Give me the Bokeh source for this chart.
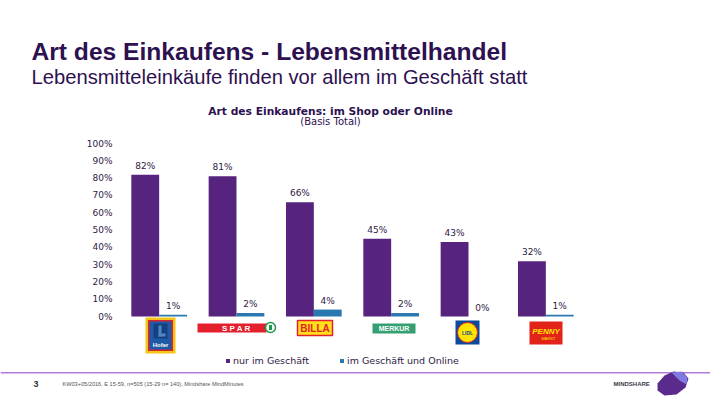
from bokeh.plotting import figure
from bokeh.layouts import column
from bokeh.models import (ColumnDataSource, FactorRange, Range1d, LabelSet, Label,
                          BoxAnnotation, PolyAnnotation, Legend, LegendItem,
                          FixedTicker, PrintfTickFormatter)
from bokeh.transform import dodge
from bokeh.core.properties import value
from bokeh.embed import file_html
from bokeh.resources import INLINE

# ---------------- data ----------------
retailers = ["Hofer", "SPAR", "BILLA", "MERKUR", "LIDL", "PENNY"]
nur_im_geschaeft = [82, 81, 66, 45, 43, 32]
geschaeft_und_online = [1, 2, 4, 2, 0, 1]
series_names = ["nur im Geschäft", "im Geschäft und Online"]
y_ticks = [0, 10, 20, 30, 40, 50, 60, 70, 80, 90, 100]

title_text = "Art des Einkaufens - Lebensmittelhandel"
subtitle_text = "Lebensmitteleinkäufe finden vor allem im Geschäft statt"
chart_title = "Art des Einkaufens: im Shop oder Online"
chart_subtitle = "(Basis Total)"
page_number = "3"
source_text = "KW03+05/2016, E 15-59, n=505 (15-29 n= 140), Mindshare MindMinutes"
brand_text = "MINDSHARE"

PURPLE = "#56247e"
BLUE = "#2a78b0"
TXT = "#2e2145"
HEAD = "#2d1150"
CHART_FONT = "DejaVu Sans"
W = 710
TOP_H, FOOT_H = 135, 29
FRAME_L, FRAME_R, FRAME_T, ZERO_Y, FRAME_B = 120, 584, 143, 316, 368


def bare(height, y0, y1):
    f = figure(width=W, height=height, x_range=Range1d(0, W), y_range=Range1d(y1, y0),
               output_backend="svg", toolbar_location=None,
               x_axis_location=None, y_axis_location=None,
               min_border=0, min_border_left=0, min_border_right=0,
               min_border_top=0, min_border_bottom=0, frame_align=False)
    f.outline_line_color = None
    f.grid.visible = False
    return f


def lab(fig, x, y, text, font="Liberation Sans", size="10px", color=TXT, align="left",
        baseline="alphabetic", style="normal", **kw):
    fig.add_layout(Label(x=x, y=y, text=text, text_font=font, text_font_size=size,
                         text_color=color, text_align=align, text_baseline=baseline,
                         text_font_style=style, level="overlay", **kw))


def box(fig, l, r, t, b, fill, line=None, lw=1, radius=0, **kw):
    fig.add_layout(BoxAnnotation(left=l, right=r, top=t, bottom=b,
                                 fill_color=fill, fill_alpha=1,
                                 line_color=line, line_alpha=1 if line else 0,
                                 line_width=lw, border_radius=radius, level="overlay", **kw))


# ---------------- headings ----------------
top = bare(TOP_H, 0, TOP_H)
lab(top, 31, 51, title_text, size="24.6px", color=HEAD, style="bold")
lab(top, 31, 76, subtitle_text, size="20.2px", color=HEAD)
lab(top, 330, 110.7, chart_title, font=CHART_FONT, size="10.7px", color=HEAD, align="center", style="bold")
lab(top, 330, 121, chart_subtitle, font=CHART_FONT, size="10px", color=HEAD, align="center", baseline="middle")

# ---------------- chart ----------------
src = ColumnDataSource(dict(
    retailer=retailers,
    shop=nur_im_geschaeft,
    online=geschaeft_und_online,
    shop_label=[f"{v}%" for v in nur_im_geschaeft],
    online_label=[f"{v}%" for v in geschaeft_und_online],
))

px_per_pct = (ZERO_Y - FRAME_T) / 100.0
p = figure(width=W, height=(FRAME_T - TOP_H) + (FRAME_B - FRAME_T),
           x_range=FactorRange(factors=retailers, range_padding=0),
           y_range=Range1d(-(FRAME_B - ZERO_Y) / px_per_pct, 100),
           output_backend="svg", toolbar_location=None, x_axis_location=None,
           min_border_left=FRAME_L, min_border_right=W - FRAME_R,
           min_border_top=FRAME_T - TOP_H, min_border_bottom=0, frame_align=False)
p.outline_line_color = None
p.grid.visible = False
p.extra_y_ranges = {"py": Range1d(FRAME_B, FRAME_T)}


def gx(xpx):
    return (xpx - FRAME_L) * len(retailers) / (FRAME_R - FRAME_L)


r1 = p.vbar(x=dodge("retailer", -0.18, range=p.x_range), top="shop", width=0.36,
            source=src, fill_color=PURPLE, line_color=None)
r2 = p.vbar(x=dodge("retailer", 0.18, range=p.x_range), top="online", width=0.36,
            source=src, fill_color=BLUE, line_color=None)

for fld, col, off in (("shop_label", "shop", -0.18), ("online_label", "online", 0.18)):
    p.add_layout(LabelSet(x=dodge("retailer", off, range=p.x_range), y=col,
                          text=fld, source=src, text_align="center",
                          text_baseline="alphabetic", y_offset=6,
                          text_font=value(CHART_FONT), text_font_size=value("9px"),
                          text_color=TXT))

ax = p.yaxis[0]
ax.ticker = FixedTicker(ticks=y_ticks)
ax.formatter = PrintfTickFormatter(format="%d%%")
ax.axis_line_color = None
ax.major_tick_line_color = None
ax.minor_tick_line_color = None
ax.major_tick_in = 0
ax.major_tick_out = 0
ax.major_label_standoff = 8
ax.major_label_text_font = CHART_FONT
ax.major_label_text_font_size = "9px"
ax.major_label_text_color = TXT

legend = Legend(items=[LegendItem(label=series_names[0], renderers=[r1]),
                       LegendItem(label=series_names[1], renderers=[r2])],
                location=(105, 2), orientation="horizontal",
                glyph_width=5, glyph_height=5, label_standoff=3, spacing=30,
                label_height=10, padding=0, margin=0,
                border_line_color=None, background_fill_alpha=0,
                label_text_font=CHART_FONT, label_text_font_size="9.5px",
                label_text_color=TXT)
p.add_layout(legend)


def plab(x, y, text, **kw):
    lab(p, gx(x), y, text, y_range_name="py", **kw)


def pbox(l, r, t, b, fill, **kw):
    box(p, gx(l), gx(r), t, b, fill, y_range_name="py", **kw)


# logos (decorative)
pbox(145, 175, 317, 353, "#f5c518")
pbox(147.5, 172.5, 319.5, 350.5, "#d9262e")
pbox(149, 171, 321, 349, "#1f5aa6")
pbox(153, 167, 323, 338, "#17407f")
pbox(158, 161, 325, 336, "#4f86c6")
pbox(158, 165, 333, 336, "#4f86c6")
plab(160, 344, "Hofer", size="6px", color="white", align="center", baseline="middle", style="bold")
pbox(197, 266, 323, 332, "#e3202b")
plab(236, 327.8, "S P A R", size="8px", color="white", align="center", baseline="middle", style="bold")
pbox(265, 275, 322, 332, "white", line="#1b9a4a", lw=1.5, radius=5)
pbox(268.5, 271.5, 324.5, 329.5, "#1b9a4a")
pbox(297, 332, 320, 335, "#ffe01b", line="#e3202b", lw=1.5)
plab(314.5, 327.8, "BILLA", size="10px", color="#e3202b", align="center", baseline="middle", style="bold")
pbox(372, 415, 323, 333, "#34a072")
plab(393.5, 328.2, "MERKUR", size="7px", color="white", align="center", baseline="middle", style="bold")
pbox(455, 479, 320, 344, "#0c4a9c")
pbox(457, 477, 322, 342, "#ffe500", line="#e3202b", lw=1, radius=10)
plab(467, 332.3, "LIDL", size="5px", color="#0c4a9c", align="center", baseline="middle", style="bold")
pbox(529, 562, 321, 344, "#e2231a")
plab(545.5, 330.5, "PENNY", size="8px", color="#ffe500", align="center", baseline="middle", style="bold italic")
plab(548, 337.5, "MARKT", size="4px", color="#ffe500", align="center", baseline="middle")

# ---------------- footer ----------------
foot = bare(FOOT_H, FRAME_B, FRAME_B + FOOT_H)
box(foot, 0, W, 371.6, 372.9, "#b27bd6")
lab(foot, 33, 383.5, page_number, size="9px", color="#333333", baseline="middle", style="bold")
lab(foot, 62, 383.5, source_text, size="5.6px", color="#555555", baseline="middle")
lab(foot, 613, 383.5, brand_text, size="6px", color="#3a3a4a", baseline="middle", style="bold")
foot.add_layout(PolyAnnotation(xs=[657, 664, 673, 683, 688, 685, 676, 664, 657],
                               ys=[383, 375, 371, 372, 378, 387, 394, 395, 390],
                               fill_color="#5a2a8c", fill_alpha=1, line_alpha=0, level="overlay"))
foot.add_layout(PolyAnnotation(xs=[671, 681, 687, 686, 679], ys=[372, 371, 377, 384, 380],
                               fill_color="#7f7be0", fill_alpha=1, line_alpha=0, level="overlay"))

page = column(top, p, foot, spacing=0)
open("out.html", "w").write(file_html(page, INLINE))
